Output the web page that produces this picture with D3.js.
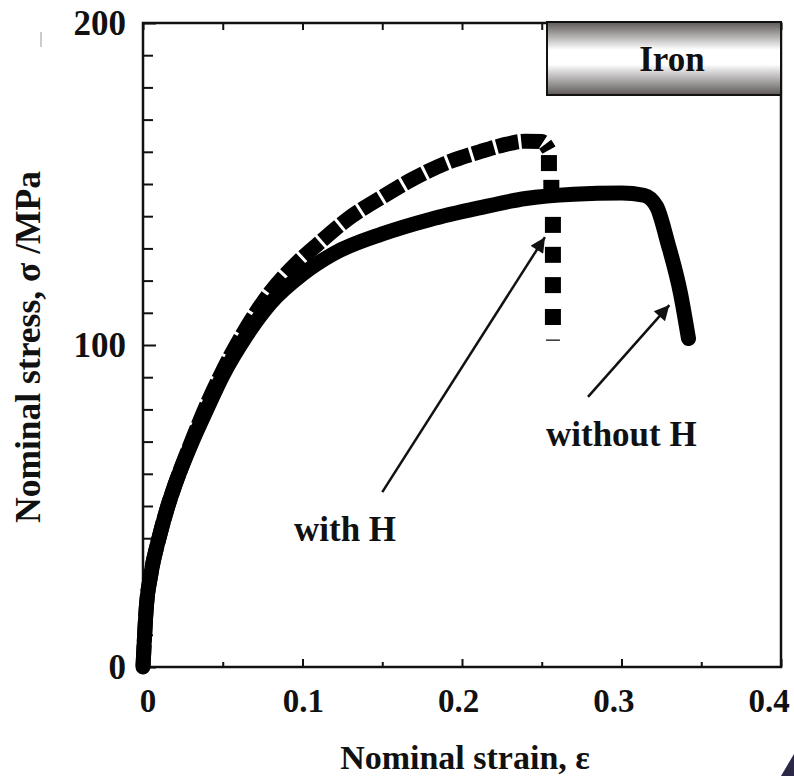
<!DOCTYPE html>
<html>
<head>
<meta charset="utf-8">
<script src="https://d3js.org/d3.v7.min.js"></script>
<style>
  body { margin: 0; background: #fff; }
  text { font-family: "Liberation Serif", "Times New Roman", serif; font-weight: bold; fill: #111; }
</style>
</head>
<body>
<script>
// strain / stress readings (nominal strain, MPa)
var noH_eps = [0, 0.002, 0.005, 0.01, 0.015, 0.02, 0.03, 0.04, 0.05, 0.065, 0.08, 0.1, 0.12, 0.15, 0.18, 0.21, 0.24, 0.27, 0.3, 0.314, 0.322, 0.329, 0.337, 0.342];
var noH_sig = [0, 18, 29, 40, 49, 56.5, 69, 80, 90.5, 103, 113, 122, 128.5, 134.5, 139, 142.5, 145.5, 146.8, 147.2, 146.5, 143, 131.7, 116, 102];

var H_eps = [0, 0.002, 0.005, 0.01, 0.015, 0.02, 0.03, 0.04, 0.05, 0.065, 0.08, 0.0965, 0.11, 0.128, 0.15, 0.169, 0.19, 0.211, 0.225, 0.24, 0.25, 0.2545];
var H_sig = [0, 18, 29, 40, 49, 56.5, 69.5, 81.5, 92, 105.5, 116.5, 125.5, 131.5, 139, 146, 151.5, 156.5, 160, 162, 163.3, 163.2, 160.5];

// after the peak the "with H" sample falls off in a few sparse points
var drop_eps = [0.2545, 0.256, 0.257, 0.257, 0.257, 0.257];
var drop_sig = [156.5, 148.8, 137.3, 128, 118.6, 108.7];
var dropEnd = [0.257, 101.5];

var xMajor = [0, 0.1, 0.2, 0.3, 0.4];
var xMinor = [0.05, 0.15, 0.25, 0.35];
var yMajor = [0, 100, 200];
var yMinor = d3.range(10, 200, 10).filter(function(v) { return v % 100 != 0; });

var width = 794, height = 776;

var svg = d3.select("body").append("svg")
    .attr("width", width)
    .attr("height", height);

var x = d3.scaleLinear().domain([0, 0.4]).range([143, 781]);
var y = d3.scaleLinear().domain([0, 200]).range([667, 23]);
// the printed tick labels sit a little tighter than the ticks themselves
var xLab = d3.scaleLinear().domain([0, 0.4]).range([148, 769]);

var defs = svg.append("defs");
var grad = defs.append("linearGradient").attr("id", "ironGrad")
    .attr("x1", 0).attr("y1", 0).attr("x2", 0).attr("y2", 1);
grad.append("stop").attr("offset", "0%").attr("stop-color", "#5e5858");
grad.append("stop").attr("offset", "38%").attr("stop-color", "#ffffff");
grad.append("stop").attr("offset", "58%").attr("stop-color", "#ffffff");
grad.append("stop").attr("offset", "100%").attr("stop-color", "#5e5858");

defs.append("marker").attr("id", "head")
    .attr("viewBox", "0 0 10 10")
    .attr("refX", 10).attr("refY", 5)
    .attr("markerWidth", 7).attr("markerHeight", 6)
    .attr("markerUnits", "strokeWidth")
    .attr("orient", "auto")
  .append("path").attr("d", "M0,0 L10,5 L0,10 Z").attr("fill", "#111");

// ticks, inward
function styleAxis(g) {
  g.select(".domain").remove();
  g.selectAll(".tick line").attr("stroke", "#111").attr("stroke-width", 2);
  g.selectAll(".tick text").attr("font-size", 33);
}

svg.append("g").attr("transform", "translate(0,667)")
    .call(d3.axisBottom(x).tickValues(xMajor).tickSize(-8).tickFormat(""))
    .call(styleAxis);
svg.append("g").attr("transform", "translate(0,667)")
    .call(d3.axisBottom(x).tickValues(xMinor).tickSize(-5).tickFormat(""))
    .call(styleAxis);
svg.append("g").attr("transform", "translate(0,23)")
    .call(d3.axisTop(x).tickValues(xMajor.concat(xMinor)).tickSize(-7).tickFormat(""))
    .call(styleAxis);

svg.selectAll(".xlab")
    .data(xMajor)
    .enter().append("text")
    .attr("class", "xlab")
    .attr("x", function(d) { return xLab(d); })
    .attr("y", 712)
    .attr("text-anchor", "middle")
    .attr("font-size", 33)
    .text(function(d) { return d === 0 ? "0" : d3.format(".1f")(d); });

svg.append("g").attr("transform", "translate(143,0)")
    .call(d3.axisLeft(y).tickValues(yMajor).tickSize(-13).tickPadding(17))
    .call(styleAxis)
    .call(function(g) { g.selectAll(".tick text").attr("font-size", 35); });
svg.append("g").attr("transform", "translate(143,0)")
    .call(d3.axisLeft(y).tickValues(yMinor).tickSize(-10).tickFormat(""))
    .call(styleAxis);

// frame
svg.append("rect")
    .attr("x", x(0)).attr("y", y(200))
    .attr("width", x(0.4) - x(0)).attr("height", y(0) - y(200))
    .attr("fill", "none").attr("stroke", "#111").attr("stroke-width", 2.5);

var line = d3.line()
    .x(function(d) { return x(d[0]); })
    .y(function(d) { return y(d[1]); })
    .curve(d3.curveMonotoneX);

var noH = d3.zip(noH_eps, noH_sig);
var withH = d3.zip(H_eps, H_sig);

svg.append("path")
    .datum(noH)
    .attr("d", line)
    .attr("fill", "none").attr("stroke", "#000").attr("stroke-width", 15)
    .attr("stroke-linejoin", "round").attr("stroke-linecap", "round");

svg.append("path")
    .datum(withH)
    .attr("d", line)
    .attr("fill", "none").attr("stroke", "#000").attr("stroke-width", 15)
    .attr("stroke-dasharray", "22,3");

svg.selectAll(".drop")
    .data(d3.zip(drop_eps, drop_sig))
    .enter().append("rect")
    .attr("class", "drop")
    .attr("x", function(d) { return x(d[0]) - 8; })
    .attr("y", function(d) { return y(d[1]) - 8; })
    .attr("width", 16).attr("height", 16)
    .attr("fill", "#000");

svg.append("line")
    .attr("x1", x(dropEnd[0]) - 7).attr("x2", x(dropEnd[0]) + 7)
    .attr("y1", y(dropEnd[1])).attr("y2", y(dropEnd[1]))
    .attr("stroke", "#333").attr("stroke-width", 1.5);

// annotations
svg.append("line")
    .attr("x1", x(0.150)).attr("y1", y(54.3))
    .attr("x2", x(0.252)).attr("y2", y(133.5))
    .attr("stroke", "#111").attr("stroke-width", 2.5)
    .attr("marker-end", "url(#head)");
svg.append("line")
    .attr("x1", x(0.279)).attr("y1", y(83.9))
    .attr("x2", x(0.330)).attr("y2", y(112.4))
    .attr("stroke", "#111").attr("stroke-width", 2.5)
    .attr("marker-end", "url(#head)");

svg.append("text").attr("x", 294).attr("y", 541).attr("font-size", 35).text("with H");
svg.append("text").attr("x", 546).attr("y", 446).attr("font-size", 35).text("without H");

// sample box
svg.append("rect")
    .attr("x", 547).attr("y", 22).attr("width", 234).attr("height", 73)
    .attr("fill", "url(#ironGrad)").attr("stroke", "#111").attr("stroke-width", 2);
svg.append("text").attr("x", 672).attr("y", 71).attr("text-anchor", "middle")
    .attr("font-size", 35).text("Iron");

// axis titles
svg.append("text").attr("x", 465).attr("y", 769).attr("text-anchor", "middle")
    .attr("font-size", 34).text("Nominal strain, \u03b5");
svg.append("text")
    .attr("transform", "translate(40,523) rotate(-90)")
    .attr("font-size", 35.5).text("Nominal stress, \u03c3 /MPa");

// scan leftovers
svg.append("line").attr("x1", 41).attr("x2", 41).attr("y1", 32).attr("y2", 47)
    .attr("stroke", "#ccc").attr("stroke-width", 2);
svg.append("path").attr("d", "M781,776 L794,754 L794,776 Z").attr("fill", "#2b2747");
</script>
</body>
</html>
